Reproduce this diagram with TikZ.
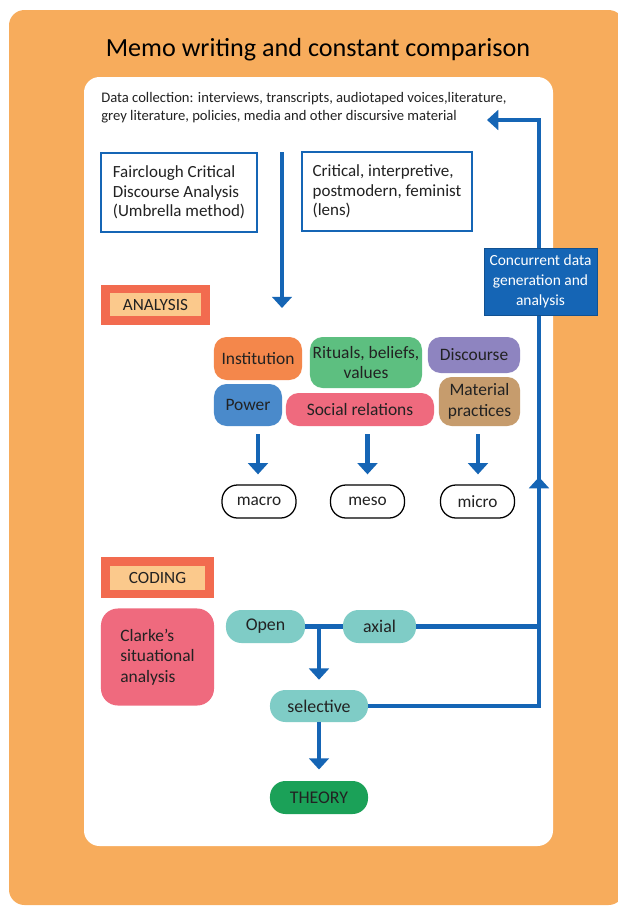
\documentclass[tikz,border=0pt]{standalone}
\usepackage{fontspec}
\setmainfont{Carlito}
\usepackage{xcolor}
\usetikzlibrary{arrows.meta, positioning, calc}

\definecolor{bgorange}{HTML}{F7AC5C}
\definecolor{flowblue}{HTML}{1565B5}
\definecolor{tagred}{HTML}{F26B4F}
\definecolor{tagpale}{HTML}{FBC98C}
\definecolor{instorange}{HTML}{F4874B}
\definecolor{ritgreen}{HTML}{5DBF80}
\definecolor{discpurple}{HTML}{8E84C0}
\definecolor{powblue}{HTML}{4A8ACB}
\definecolor{socpink}{HTML}{EF6A7E}
\definecolor{matbrown}{HTML}{C69C6D}
\definecolor{codeteal}{HTML}{7FCCC6}
\definecolor{theorygreen}{HTML}{1BA158}
\definecolor{inktext}{HTML}{222222}

\begin{document}
\begin{tikzpicture}[
    x=0.025cm, y=-0.025cm,
    font=\fontsize{11}{13}\selectfont, text=inktext,
    cat/.style={rectangle, rounded corners=9pt, align=center,
                inner sep=1pt, font=\fontsize{12.4}{14.5}\selectfont},
    pill/.style={rectangle, rounded corners=11pt, fill=codeteal,
                 minimum height=0.825cm, align=center,
                 font=\fontsize{12.7}{14}\selectfont},
    lvl/.style={rectangle, rounded corners=11pt, draw=black, line width=0.9pt,
                fill=white, minimum width=1.85cm, minimum height=0.825cm,
                font=\fontsize{12.3}{14}\selectfont},
    frame/.style={rectangle, draw=flowblue, line width=1.1pt, fill=white,
                  minimum width=3.9cm, minimum height=1.98cm, align=left,
                  font=\fontsize{12.1}{13.8}\selectfont},
    tagout/.style={rectangle, fill=tagred, minimum height=1cm},
    tagin/.style={rectangle, fill=tagpale, minimum height=0.58cm,
                  font=\fontsize{12.2}{14}\selectfont},
    flow/.style={-{Triangle[width=14pt, length=8pt]}, line width=3.5pt,
                 draw=flowblue},
    flowline/.style={line width=3.5pt, draw=flowblue},
  ]

  % Page 618 x 909 px, coordinates in px (y grows downwards)
  \useasboundingbox (0,0) rectangle (618,909);

  \def\xMain{282}   % main analysis arrow
  \def\xR{539}      % right-hand feedback line
  \def\ySel{706}

  % ── Background panels ───────────────────────────────────────────────
  \fill[bgorange, rounded corners=11pt] (9,10) rectangle (624,905);
  \fill[white, rounded corners=11pt] (84,77) rectangle (553,846);

  \node[font=\fontsize{18.6}{21}\selectfont, text=black] (title) at (318,50)
    {Memo writing and constant comparison};

  \node[anchor=west, align=left, inner sep=0pt,
        font=\fontsize{10.4}{12.7}\selectfont] (data) at (101,108)
    {Data collection: interviews, transcripts, audiotaped voices,literature,\\
     grey literature, policies, media and other discursive material};

  % ── Method and lens ─────────────────────────────────────────────────
  \node[frame] (fair) at (179,192.5)
    {Fairclough Critical\\Discourse Analysis\\(Umbrella method)};
  \node[frame, minimum width=4.25cm] (lens) at (387,191.5)
    {Critical, interpretive,\\postmodern, feminist\\(lens)};

  \coordinate (mainTop) at (\xMain,152);
  \coordinate (mainTip) at (\xMain,308);
  \draw[flow] (mainTop) -- (mainTip);

  % ── Analysis ────────────────────────────────────────────────────────
  \node[tagout, minimum width=2.725cm] (anaOut) at (155.5,305) {};
  \node[tagin, minimum width=2.25cm] (ana) at (155.5,304.5) {ANALYSIS};

  \node[cat, fill=instorange, minimum width=2.2cm, minimum height=1.075cm]
    (inst) at (258,358.5) {Institution};
  \node[cat, fill=ritgreen, minimum width=2.8cm, minimum height=1.275cm]
    (rit) at (366,362.5) {Rituals, beliefs,\\values};
  \node[cat, fill=discpurple, minimum width=2.3cm, minimum height=0.9cm]
    (disc) at (474,355) {Discourse};
  \node[cat, fill=powblue, minimum width=1.7cm, minimum height=1.05cm]
    (pow) at (248,405) {Power};
  \node[cat, fill=socpink, minimum width=3.7cm, minimum height=0.825cm]
    (soc) at (360,409.5) {Social relations};
  \node[cat, fill=matbrown, minimum width=2.025cm, minimum height=1.225cm]
    (mat) at (479.5,401.5) {Material\\practices};

  \node[lvl] (mac) at (259,501.5) {macro};
  \node[lvl] (mes) at (367.5,501.5) {meso};
  \node[lvl] (mic) at (477.5,501.5) {micro};

  \draw[flow] (mac.north) ++(-1,-50) -- ++(0,40);
  \draw[flow] (mes.north) ++(0,-50) -- ++(0,40);
  \draw[flow] (mic.north) ++(0.5,-50) -- ++(0,40);

  % ── Coding ──────────────────────────────────────────────────────────
  \node[tagout, minimum width=2.825cm, minimum height=1.025cm] (codOut)
    at (157.5,577.5) {};
  \node[tagin, minimum width=2.375cm, minimum height=0.6cm] (cod)
    at (157.5,578) {CODING};

  \node[cat, fill=socpink, rounded corners=12pt, minimum width=2.825cm,
        minimum height=2.425cm, align=left,
        font=\fontsize{12.4}{14.6}\selectfont] (clarke) at (157.5,657)
    {Clarke’s\\situational\\analysis};

  \node[pill, minimum width=1.975cm] (op) at (265.5,626.5) {Open};
  \node[pill, minimum width=1.825cm] (ax) at (379.5,626.5) {axial};
  \node[pill, minimum width=2.45cm, minimum height=0.8cm] (sel)
    at (319,\ySel) {selective};
  \node[pill, fill=theorygreen, minimum width=2.45cm] (th) at (319,797.5)
    {THEORY};

  \draw[flowline] (op.east) -- (ax.west);
  \draw[flow, shorten >=0.25cm] (op.east -| sel.north) -- (sel.north);
  \draw[flow, shorten >=0.28cm] (sel.south) -- (th.north);

  % ── Feedback loop back to data collection ───────────────────────────
  \coordinate (loopTop) at (\xR,120);
  \coordinate (dataIn) at (487,120);
  \coordinate (upTip) at (\xR,477);
  \draw[flowline] (ax.east) -- (ax.east -| loopTop);
  \draw[flow] (sel.east) -| (loopTop) -- (dataIn);
  \draw[flow] (upTip) ++(0,30) -- (upTip);

  \node[rectangle, fill=flowblue, draw=flowblue!80!black, line width=0.6pt,
        minimum width=2.825cm, minimum height=1.675cm, align=center,
        text=white, font=\fontsize{11}{14}\selectfont] (conc) at (540.5,281.5)
    {Concurrent data\\generation and\\analysis};

\end{tikzpicture}
\end{document}
